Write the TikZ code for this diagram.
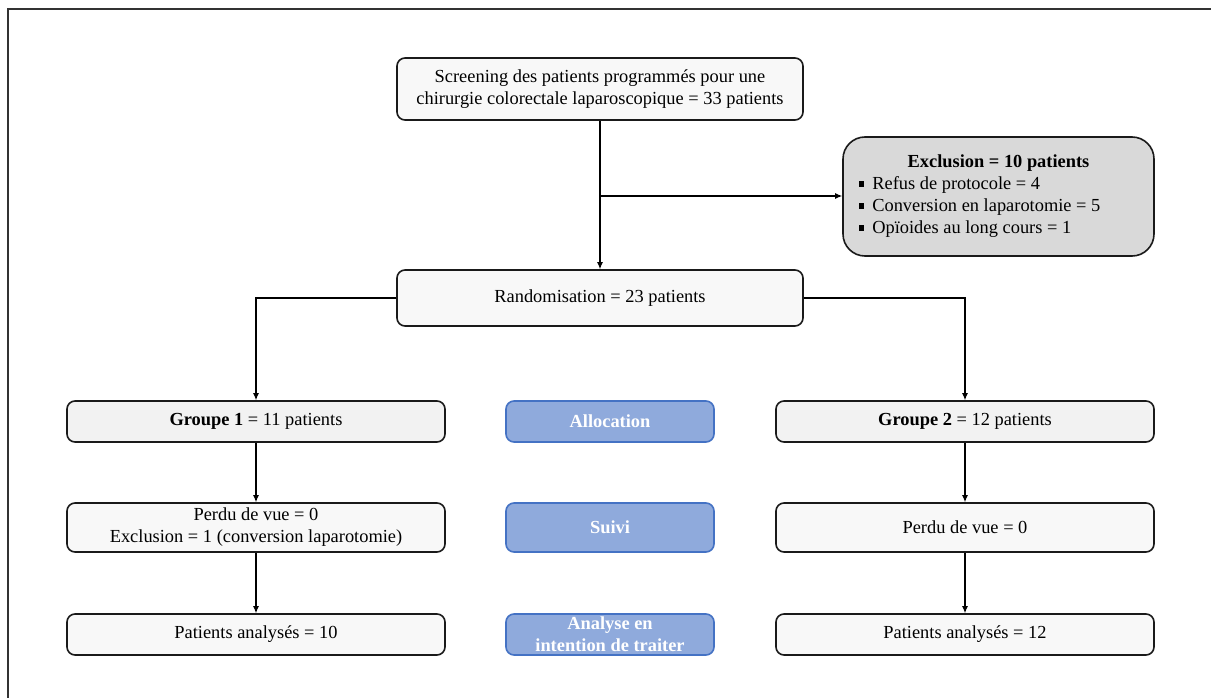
\documentclass[tikz,border=0pt]{standalone}
\usepackage{fontspec}
\setmainfont{Liberation Serif}
\usetikzlibrary{arrows.meta}
\definecolor{boxfill}{HTML}{F8F8F8}
\definecolor{grpfill}{HTML}{F2F2F2}
\definecolor{exfill}{HTML}{D9D9D9}
\definecolor{bluefill}{HTML}{8FAADC}
\definecolor{blueline}{HTML}{4472C4}
\definecolor{boxline}{HTML}{1A1A1A}
\newcommand{\sqbullet}{\raisebox{0.17em}{\rule{0.3em}{0.3em}}\hspace{0.45em}}
\tikzset{
  x=1pt, y=-1pt,
  box/.style={draw=boxline, line width=1.6pt, rounded corners=8pt, fill=boxfill,
    font=\fontsize{18.4}{22}\selectfont, align=center, inner sep=0pt},
  grp/.style={box, fill=grpfill},
  phase/.style={draw=blueline, line width=1.6pt, rounded corners=8pt, fill=bluefill,
    text=white, font=\fontsize{18.4}{22}\selectfont\bfseries, align=center, inner sep=0pt,
    minimum width=208pt},
  arr/.style={line width=1.1pt, -{Latex[length=7pt,width=6pt]}},
  frame/.style={line width=1.2pt, draw=black!80}
}
\begin{document}
\begin{tikzpicture}
\useasboundingbox (0,0) rectangle (1211,698);
\draw[frame] (8,698) -- (8,9) -- (1211,9);

\node[box, minimum width=406pt, minimum height=62pt] (screen) at (600,89)
  {Screening des patients programmés pour une\\chirurgie colorectale laparoscopique = 33 patients};
\node[box, fill=exfill, rounded corners=22pt, minimum width=311pt, minimum height=119pt,
  align=left] (excl) at (998.5,196.5)
  {\makebox[280pt][c]{\bfseries Exclusion = 10 patients}\\
   \sqbullet Refus de protocole = 4\\
   \sqbullet Conversion en laparotomie = 5\\
   \sqbullet Opïoides au long cours = 1};
\node[box, minimum width=406pt, minimum height=56pt] (rand) at (600,298)
  {Randomisation = 23 patients};

\node[grp, minimum width=378pt, minimum height=41pt] (g1) at (256,421.5)
  {\textbf{Groupe 1} = 11 patients};
\node[phase, minimum height=41pt] (alloc) at (610,421.5) {Allocation};
\node[grp, minimum width=378pt, minimum height=41pt] (g2) at (965,421.5)
  {\textbf{Groupe 2} = 12 patients};

\node[box, minimum width=378pt, minimum height=49pt] (p1) at (256,527.5)
  {Perdu de vue = 0\\Exclusion = 1 (conversion laparotomie)};
\node[phase, minimum height=49pt] (suivi) at (610,527.5) {Suivi};
\node[box, minimum width=378pt, minimum height=49pt] (p2) at (965,527.5)
  {Perdu de vue = 0};

\node[box, minimum width=378pt, minimum height=41pt] (a1) at (256,634.5)
  {Patients analysés = 10};
\node[phase, minimum height=41pt] (analyse) at (610,634.5) {Analyse en\\intention de traiter};
\node[box, minimum width=378pt, minimum height=41pt] (a2) at (965,634.5)
  {Patients analysés = 12};

\coordinate (branch) at (600,196);
\draw[arr] (screen.south) -- (rand.north);
\draw[arr] (branch) -- (branch -| excl.west);
\draw[arr] (rand.west) -| (g1.north);
\draw[arr] (rand.east) -| (g2.north);
\draw[arr] (g1.south) -- (p1.north);
\draw[arr] (p1.south) -- (a1.north);
\draw[arr] (g2.south) -- (p2.north);
\draw[arr] (p2.south) -- (a2.north);
\end{tikzpicture}
\end{document}
